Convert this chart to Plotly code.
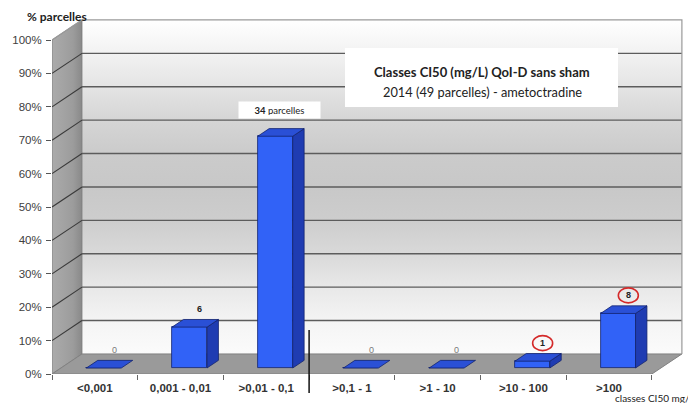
import plotly.graph_objects as go

# ---------------- data ----------------
categories = ["<0,001", "0,001 - 0,01", ">0,01 - 0,1", ">0,1 - 1", ">1 - 10", ">10 - 100", ">100"]
counts = [0, 6, 34, 0, 0, 1, 8]
total_parcelles = 49
y_tick_values = [0, 10, 20, 30, 40, 50, 60, 70, 80, 90, 100]
y_tick_labels = ["0%", "10%", "20%", "30%", "40%", "50%", "60%", "70%", "80%", "90%", "100%"]
circled = [False, False, False, False, False, True, True]
boxed = [False, False, True, False, False, False, False]
title_line1 = "Classes CI50 (mg/L) QoI-D sans sham"
title_line2 = "2014 (49 parcelles) - ametoctradine"
y_title = "% parcelles"
x_title = "classes CI50 mg/L"

pct = [c / total_parcelles * 100 for c in counts]
idx = list(range(len(categories)))

# ---------------- geometry ----------------
OFF = 8                      # page body margin of the html page
W, H = 696 - OFF, 403 - OFF
PLOT_LEFT, PLOT_BOTTOM = 52, 374   # window pixel positions of the front-left corner
ML = PLOT_LEFT - OFF
plot_w = W - ML
plot_h = PLOT_BOTTOM - OFF
MB = H - plot_h
PX_PER_CAT = 85.7
PX_PER_PCT = 3.34
x_range = [-0.5, -0.5 + plot_w / PX_PER_CAT]
y_range = [0, plot_h / PX_PER_PCT]

DX, DY = 0.35, 6.0          # depth of the 3D box (data units)
F1, F2 = 0.30, 0.68         # bar front / back depth fractions
BW = 0.408                  # bar width
FRONT_X, FRONT_Y = DX * F1, DY * F1
BDX, BDY = DX * (F2 - F1), DY * (F2 - F1)
LBL_DX, LBL_DY = 0.225, 7.2

XL = -0.5
XR = len(categories) - 0.5
YTOP = y_tick_values[-1]


def ppx(px):
    return (px - PLOT_LEFT) / plot_w


def ppy(py):
    return (PLOT_BOTTOM - py) / plot_h


FONT_A = "Liberation Sans, Arial, sans-serif"
FONT_C = "Lato, Open Sans, sans-serif"

fig = go.Figure()

# ---------------- walls (base subplot) ----------------
fig.add_trace(go.Scatter(
    x=[XL + DX, XR + DX, XR + DX, XL + DX, XL + DX],
    y=[DY, DY, YTOP + DY, YTOP + DY, DY],
    mode="lines", line=dict(width=0, color="rgba(0,0,0,0)"),
    fill="toself",
    fillgradient=dict(type="vertical", colorscale=[
        [0.0, "#fbfbfb"], [0.1, "#f4f4f4"], [0.2, "#e8e8e8"], [0.3, "#d9d9d9"],
        [0.4, "#cdcdcd"], [0.5, "#c8c8c8"], [0.6, "#cbcbcb"], [0.7, "#d5d5d5"],
        [0.8, "#e4e4e4"], [0.9, "#f2f2f2"], [1.0, "#ffffff"]]),
    hoverinfo="skip", showlegend=False))

fig.add_trace(go.Scatter(
    x=[XL, XL, XL + DX, XL + DX, XL],
    y=[0, YTOP, YTOP + DY, DY, 0],
    mode="lines", line=dict(width=0.8, color="#7a7a7a"),
    fill="toself",
    fillgradient=dict(type="horizontal", colorscale=[
        [0.0, "#ababab"], [0.7, "#9c9c9c"], [1.0, "#898989"]]),
    hoverinfo="skip", showlegend=False))

fig.add_trace(go.Scatter(
    x=[XL, XR, XR + DX, XL + DX, XL],
    y=[0, 0, DY, DY, 0],
    mode="lines", line=dict(width=1, color="#808080"),
    fill="toself", fillcolor="#9a9a9a",
    hoverinfo="skip", showlegend=False))

gx, gy, lx, ly = [], [], [], []
for v in y_tick_values[1:-1]:
    gx += [XL + DX, XR + DX, None]
    gy += [v + DY, v + DY, None]
    lx += [XL, XL + DX, None]
    ly += [v, v + DY, None]
fig.add_trace(go.Scatter(x=gx, y=gy, mode="lines",
                         line=dict(color="#5c5c5c", width=1.4),
                         hoverinfo="skip", showlegend=False))
fig.add_trace(go.Scatter(x=lx, y=ly, mode="lines",
                         line=dict(color="#3a3a3a", width=1.1),
                         hoverinfo="skip", showlegend=False))
fig.add_trace(go.Scatter(
    x=[XL, XL + DX, XR + DX, XR + DX],
    y=[YTOP, YTOP + DY, YTOP + DY, DY],
    mode="lines", line=dict(color="#9a9a9a", width=1.2),
    hoverinfo="skip", showlegend=False))

# ---------------- bars (overlay subplot, drawn on top) ----------------
FRONT_C = "#3162f7"
TOP_C = "#2a50d6"
SIDE_C = "#1f3cb2"
EDGE_C = "#13236e"

fig.add_trace(go.Bar(
    x=idx, y=pct, base=FRONT_Y, width=BW, offset=FRONT_X - BW / 2,
    marker=dict(color=FRONT_C, line=dict(color=EDGE_C, width=0.8)),
    xaxis="x2", yaxis="y2", hoverinfo="skip", showlegend=False))

tx, ty, sx, sy = [], [], [], []
for i, v in zip(idx, pct):
    xl = i + FRONT_X - BW / 2
    xr = i + FRONT_X + BW / 2
    yb = FRONT_Y
    yt = FRONT_Y + v
    tx += [xl, xr, xr + BDX, xl + BDX, xl, None]
    ty += [yt, yt, yt + BDY, yt + BDY, yt, None]
    if v > 0:
        sx += [xr, xr + BDX, xr + BDX, xr, xr, None]
        sy += [yb, yb + BDY, yt + BDY, yt, yb, None]

fig.add_trace(go.Scatter(x=sx, y=sy, mode="lines", fill="toself",
                         fillcolor=SIDE_C, line=dict(color=EDGE_C, width=0.8),
                         xaxis="x2", yaxis="y2", hoverinfo="skip", showlegend=False))
fig.add_trace(go.Scatter(x=tx, y=ty, mode="lines", fill="toself",
                         fillcolor=TOP_C, line=dict(color=EDGE_C, width=0.8),
                         xaxis="x2", yaxis="y2", hoverinfo="skip", showlegend=False))

# ---------------- value labels ----------------
annotations = []
shapes = []
for i, (c, v) in enumerate(zip(counts, pct)):
    if boxed[i]:
        annotations.append(dict(
            x=i + 0.16, y=v + 9.6, xref="x", yref="y",
            xanchor="center", yanchor="middle",
            text=f"<b>{c}</b> parcelles", showarrow=False,
            font=dict(family=FONT_C, size=9.5, color="#222222"),
            bgcolor="white", width=75, height=10, borderpad=3))
        continue
    if c == 0:
        txt, col = str(c), "#7a7a7a"
    else:
        txt, col = f"<b>{c}</b>", "#222222"
    annotations.append(dict(
        x=i + LBL_DX, y=v + LBL_DY, xref="x", yref="y", text=txt, showarrow=False,
        xanchor="center", yanchor="middle",
        font=dict(family=FONT_A, size=9, color=col)))
    if circled[i]:
        shapes.append(dict(
            type="circle", xref="x", yref="y", xsizemode="pixel", ysizemode="pixel",
            xanchor=i + LBL_DX, yanchor=v + LBL_DY, x0=-10, x1=10, y0=-7.5, y1=7.5,
            line=dict(color="#d42a2a", width=1.6), fillcolor="rgba(0,0,0,0)"))

# title box
shapes.append(dict(type="rect", xref="paper", yref="paper",
                   x0=ppx(345), x1=ppx(618), y0=ppy(107), y1=ppy(48),
                   fillcolor="white", line=dict(width=0), layer="above"))
annotations.append(dict(x=ppx(482), y=ppy(72), xref="paper", yref="paper",
                        xanchor="center", yanchor="middle",
                        text=f"<b>{title_line1}</b>", showarrow=False,
                        font=dict(family=FONT_C, size=13, color="#222222")))
annotations.append(dict(x=ppx(482), y=ppy(92), xref="paper", yref="paper",
                        xanchor="center", yanchor="middle",
                        text=title_line2, showarrow=False,
                        font=dict(family=FONT_C, size=12.8, color="#222222")))

# vertical separator line
shapes.append(dict(type="line", xref="x", yref="paper", x0=2.5, x1=2.5,
                   y0=ppy(330), y1=ppy(393), line=dict(color="#111111", width=1.5)))

# axis titles
annotations.append(dict(x=ppx(25), y=ppy(16), xref="paper", yref="paper",
                        xanchor="left", yanchor="middle",
                        text=f"<b>{y_title}</b>", showarrow=False,
                        font=dict(family=FONT_C, size=12, color="#222222")))
annotations.append(dict(x=ppx(613), y=ppy(398), xref="paper", yref="paper",
                        xanchor="left", yanchor="middle", text=x_title, showarrow=False,
                        font=dict(family=FONT_C, size=10, color="#222222")))

fig.update_layout(
    width=W, height=H,
    margin=dict(l=ML, r=0, t=0, b=MB, pad=0),
    paper_bgcolor="white", plot_bgcolor="white",
    showlegend=False,
    bargap=0,
    xaxis=dict(range=x_range, showgrid=False, zeroline=False, showline=False,
               tickmode="array", tickvals=idx,
               ticktext=[f"<b>{c}</b>" for c in categories],
               ticks="", tickfont=dict(family=FONT_A, size=11.5, color="#333333"),
               ticklabelstandoff=5,
               minor=dict(tickmode="array", tickvals=[k - 0.5 for k in range(len(categories) + 1)],
                          ticks="outside", ticklen=5, tickcolor="#666666", tickwidth=1,
                          showgrid=False)),
    yaxis=dict(range=y_range, showgrid=False, zeroline=False, showline=False,
               tickmode="array", tickvals=y_tick_values, ticktext=y_tick_labels,
               ticks="outside", ticklen=5, tickcolor="#555555",
               tickfont=dict(family=FONT_A, size=11.5, color="#404040"),
               ticklabelstandoff=2),
    xaxis2=dict(range=x_range, overlaying="x", visible=False),
    yaxis2=dict(range=y_range, overlaying="y", visible=False),
    annotations=annotations,
    shapes=shapes,
)

fig.write_html("out.html")
